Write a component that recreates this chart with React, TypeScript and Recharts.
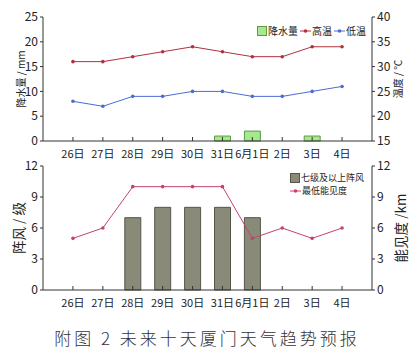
import { ComposedChart, Bar, Line, XAxis, YAxis } from 'recharts';

const days = ['26日', '27日', '28日', '29日', '30日', '31日', '6月1日', '2日', '3日', '4日'];
const rain = [null, null, null, null, null, 1, 2, null, 1, null];
const highTemp = [31, 31, 32, 33, 34, 33, 32, 32, 34, 34];
const lowTemp = [23, 22, 24, 24, 25, 25, 24, 24, 25, 26];
const gust = [null, null, 7, 8, 8, 8, 7, null, null, null];
const visibility = [5, 6, 10, 10, 10, 10, 5, 6, 5, 6];

const rainTicks = [0, 5, 10, 15, 20, 25];
const tempTicks = [15, 20, 25, 30, 35, 40];
const gustTicks = [0, 3, 6, 9, 12];

const weatherData = days.map((day, i) => ({ day, rain: rain[i], high: highTemp[i], low: lowTemp[i] }));
const windData = days.map((day, i) => ({ day, gust: gust[i], vis: visibility[i] }));

const FONT = '"Noto Sans CJK SC", "Noto Sans", sans-serif';
const AXIS = '#333';
const TEXT = '#222';

const BottomTick = (props: any) => {
  const { x, y, payload } = props;
  return (
    <g>
      <line x1={x} x2={x} y1={y} y2={y - 4} stroke={AXIS} />
      <text x={x} y={y + 12} textAnchor="middle" dominantBaseline="central" fontSize={11} fill={TEXT} fontFamily={FONT}>
        {payload.value}
      </text>
    </g>
  );
};

const TopTick = (props: any) => <line x1={props.x} x2={props.x} y1={props.y} y2={props.y + 4} stroke={AXIS} />;

const sideTitle = (text: string, dx: number, size: number) => ({
  content: (p: any) => {
    const vb = p.viewBox;
    const cx = vb.x + dx;
    const cy = vb.y + vb.height / 2;
    return (
      <text x={cx} y={cy} transform={`rotate(-90 ${cx} ${cy})`} textAnchor="middle" dominantBaseline="central" fontSize={size} fill={TEXT} fontFamily={FONT}>
        {text}
      </text>
    );
  },
});

const tickStyle = { fill: TEXT, fontSize: 12, fontFamily: FONT };

const LineIcon = ({ color }: { color: string }) => (
  <svg width={11} height={8} style={{ marginRight: 1 }}>
    <line x1={0} x2={11} y1={4} y2={4} stroke={color} strokeWidth={1} />
    <circle cx={5.5} cy={4} r={1.8} fill={color} />
  </svg>
);

export default function App() {
  return (
    <div style={{ position: 'absolute', left: 0, top: 0, width: 411, height: 360, background: '#fff', fontFamily: FONT }}>
      <div style={{ position: 'absolute', left: 0, top: 0 }}>
        <ComposedChart width={411} height={160} data={weatherData} margin={{ top: 17, right: 0, bottom: 0, left: 0 }}>
          <XAxis xAxisId="top" orientation="top" dataKey="day" height={0} padding={{ left: 15, right: 15 }} stroke={AXIS} tickLine={false} tickSize={0} tickMargin={0} tick={<TopTick />} interval={0} />
          <XAxis dataKey="day" height={19} padding={{ left: 15, right: 15 }} stroke={AXIS} tickLine={false} tickSize={0} tickMargin={0} tick={<BottomTick />} interval={0} />
          <YAxis yAxisId="rain" width={43} domain={[0, 25]} ticks={rainTicks} stroke={AXIS} tickSize={3} tick={tickStyle} label={sideTitle('降水量 / mm', 20, 10)} />
          <YAxis yAxisId="temp" orientation="right" width={39} domain={[15, 40]} ticks={tempTicks} stroke={AXIS} tickSize={3} tick={tickStyle} label={sideTitle('温度 / ℃', 25, 10)} />
          <Bar yAxisId="rain" dataKey="rain" barSize={16} fill="#a6e88e" stroke="#5c9a48" strokeWidth={1} isAnimationActive={false} />
          <Line yAxisId="temp" dataKey="high" stroke="#b0303c" strokeWidth={1} dot={{ r: 1.8, fill: '#b0303c', stroke: 'none' }} activeDot={false} isAnimationActive={false} />
          <Line yAxisId="temp" dataKey="low" stroke="#4a6cd4" strokeWidth={1} dot={{ r: 1.8, fill: '#4a6cd4', stroke: 'none' }} activeDot={false} isAnimationActive={false} />
        </ComposedChart>
      </div>
      <div style={{ position: 'absolute', left: 257, top: 23, display: 'flex', alignItems: 'center', fontSize: 10, color: TEXT, whiteSpace: 'nowrap' }}>
        <span style={{ display: 'inline-block', width: 10, height: 10, background: '#a6e88e', border: '1px solid #5c9a48', boxSizing: 'border-box', marginRight: 1 }} />
        <span style={{ marginRight: 2 }}>降水量</span>
        <LineIcon color="#b0303c" />
        <span style={{ marginRight: 2 }}>高温</span>
        <LineIcon color="#4a6cd4" />
        <span>低温</span>
      </div>

      <div style={{ position: 'absolute', left: 0, top: 150 }}>
        <ComposedChart width={411} height={159} data={windData} margin={{ top: 16, right: 0, bottom: 0, left: 0 }}>
          <XAxis xAxisId="top" orientation="top" dataKey="day" height={0} padding={{ left: 15, right: 15 }} stroke={AXIS} tickLine={false} tickSize={0} tickMargin={0} tick={<TopTick />} interval={0} />
          <XAxis dataKey="day" height={19} padding={{ left: 15, right: 15 }} stroke={AXIS} tickLine={false} tickSize={0} tickMargin={0} tick={<BottomTick />} interval={0} />
          <YAxis yAxisId="gust" width={43} domain={[0, 12]} ticks={gustTicks} stroke={AXIS} tickSize={3} tick={tickStyle} label={sideTitle('阵风 / 级', 18, 13.5)} />
          <YAxis yAxisId="vis" orientation="right" width={39} domain={[0, 12]} ticks={gustTicks} stroke={AXIS} tickSize={3} tick={tickStyle} label={sideTitle('能见度 /km', 28, 13.5)} />
          <Bar yAxisId="gust" dataKey="gust" barSize={16} fill="#8a8a78" stroke="#55554a" strokeWidth={1} isAnimationActive={false} />
          <Line yAxisId="vis" dataKey="vis" stroke="#c8406e" strokeWidth={1} dot={{ r: 1.8, fill: '#c8406e', stroke: 'none' }} activeDot={false} isAnimationActive={false} />
        </ComposedChart>
      </div>
      <div style={{ position: 'absolute', left: 290, top: 171, fontSize: 9, color: TEXT, whiteSpace: 'nowrap', lineHeight: '13px' }}>
        <div style={{ display: 'flex', alignItems: 'center', height: 13 }}>
          <span style={{ display: 'inline-block', width: 10, height: 10, background: '#8a8a78', border: '1px solid #55554a', boxSizing: 'border-box', marginRight: 1 }} />
          <span>七级及以上阵风</span>
        </div>
        <div style={{ display: 'flex', alignItems: 'center', height: 13 }}>
          <LineIcon color="#c8406e" />
          <span>最低能见度</span>
        </div>
      </div>

      <div style={{ position: 'absolute', left: 0, top: 325, width: 411, textAlign: 'center', fontSize: 17, fontWeight: 300, letterSpacing: 3, color: '#333', paddingLeft: 3, boxSizing: 'border-box' }}>
        附图 2 未来十天厦门天气趋势预报
      </div>
    </div>
  );
}
